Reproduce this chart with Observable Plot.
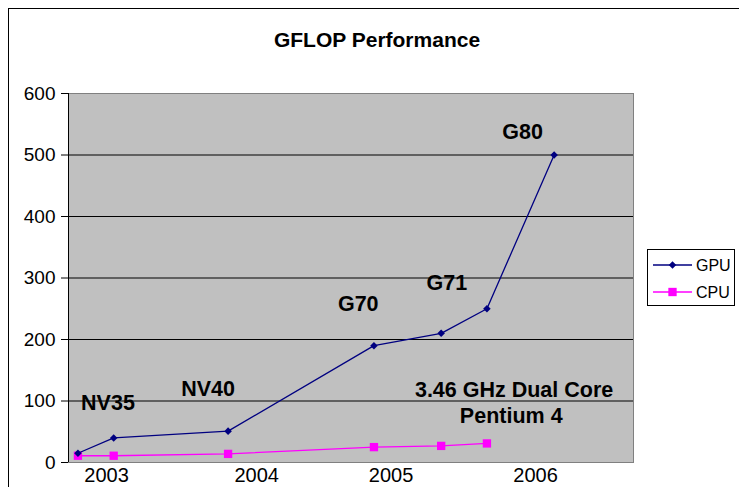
<!DOCTYPE html>
<html><head><meta charset="utf-8">
<script src="https://cdn.jsdelivr.net/npm/d3@7"></script>
<script src="https://cdn.jsdelivr.net/npm/@observablehq/plot@0.6"></script>
<style>
body{margin:0;background:#fff;}
svg{font-family:"Liberation Sans",Arial,sans-serif;}
</style>
</head><body><div id="chart"></div>
<script>
// ---- data ----
const gpuYears = [2002.80, 2003.05, 2003.85, 2004.87, 2005.34, 2005.66, 2006.13];
const gpuValues = [15, 40, 51, 190, 210, 250, 500];
const cpuYears = [2002.80, 2003.05, 2003.85, 2004.87, 2005.34, 2005.66];
const cpuValues = [11, 11, 14, 25, 27, 31];
const yearTicks = [2003, 2004.05, 2004.99, 2006];
const yearLabels = ["2003", "2004", "2005", "2006"];
const yTicks = [0, 100, 200, 300, 400, 500, 600];
const gridValues = [100, 200, 300, 400, 500];
const chipNames = ["NV35", "NV40", "G70", "G71", "G80"];
const chipLabelYears = [2003.01, 2003.71, 2004.76, 2005.38, 2005.91];
const chipLabelValues = [96, 120, 258, 291, 538];
const cpuNoteLines = ["3.46 GHz Dual Core", "Pentium 4"];
const cpuNoteYears = [2005.85, 2005.83];
const cpuNoteValues = [117, 75];
const seriesNames = ["GPU", "CPU"];
const seriesColors = ["#000080", "#ff00ff"];
const titleText = "GFLOP Performance";
const xDomain = [2002.734, 2006.685];

const gpu = gpuYears.map((x, i) => ({x, y: gpuValues[i]}));
const cpu = cpuYears.map((x, i) => ({x, y: cpuValues[i]}));
const chips = chipNames.map((t, i) => ({t, x: chipLabelYears[i], y: chipLabelValues[i]}));
const notes = cpuNoteLines.map((t, i) => ({t, x: cpuNoteYears[i], y: cpuNoteValues[i]}));

const svg = Plot.plot({
  width: 739, height: 487,
  marginLeft: 68, marginRight: 106, marginTop: 93, marginBottom: 25,
  style: {fontFamily: "'Liberation Sans', Arial, sans-serif", background: "#fff", color: "#000"},
  x: {domain: xDomain, label: null},
  y: {domain: [0, 600], label: null},
  marks: [
    Plot.frame({fill: "#c0c0c0", stroke: "#808080"}),
    Plot.ruleY(gridValues, {stroke: "#000", strokeWidth: 1}),
    Plot.ruleX([xDomain[0]], {stroke: "#000", strokeWidth: 1}),
    Plot.axisY({ticks: yTicks, tickSize: 7, tickPadding: 6, fontSize: 19, stroke: "#000", fill: "#000"}),
    Plot.axisX({ticks: yearTicks, tickFormat: d => yearLabels[yearTicks.indexOf(d)], tickSize: 0, tickPadding: 5, fontSize: 20, fill: "#000"}),
    Plot.line(cpu, {x: "x", y: "y", stroke: seriesColors[1], strokeWidth: 1.3}),
    Plot.dot(cpu, {x: "x", y: "y", symbol: "square", r: 4.7, fill: seriesColors[1], stroke: "none"}),
    Plot.line(gpu, {x: "x", y: "y", stroke: seriesColors[0], strokeWidth: 1.3}),
    Plot.dot(gpu, {x: "x", y: "y", symbol: "diamond2", r: 3.4, fill: seriesColors[0], stroke: "none"}),
    Plot.text(chips, {x: "x", y: "y", text: "t", fontSize: 21.5, fontWeight: "bold", fill: "#000"}),
    Plot.text(notes, {x: "x", y: "y", text: "t", fontSize: 21.5, fontWeight: "bold", fill: "#000"})
  ]
});

const s = d3.select(svg);
// outer border
s.append("rect").attr("x", 8.5).attr("y", 8.5).attr("width", 760).attr("height", 500)
  .attr("fill", "none").attr("stroke", "#000");
// title
s.append("text").attr("x", 377).attr("y", 40).attr("text-anchor", "middle").attr("dy", "0.35em")
  .attr("font-size", 21).attr("font-weight", "bold").attr("fill", "#000").text(titleText);
// legend
const lg = s.append("g");
lg.append("rect").attr("x", 647.5).attr("y", 249.5).attr("width", 87).attr("height", 56)
  .attr("fill", "#fff").attr("stroke", "#000");
seriesNames.forEach((name, i) => {
  const yy = 265 + i * 27;
  lg.append("line").attr("x1", 653).attr("x2", 692).attr("y1", yy).attr("y2", yy)
    .attr("stroke", seriesColors[i]).attr("stroke-width", 1.3);
  const sym = i === 0 ? d3.symbol(d3.symbolDiamond2, Math.PI * 3.4 * 3.4) : d3.symbol(d3.symbolSquare, Math.PI * 4.7 * 4.7);
  lg.append("path").attr("d", sym()).attr("transform", `translate(672.5,${yy})`).attr("fill", seriesColors[i]);
  lg.append("text").attr("x", 696).attr("y", yy).attr("dy", "0.35em").attr("font-size", 16)
    .attr("text-anchor", "start").attr("fill", "#000").text(name);
});
document.getElementById("chart").appendChild(svg);
</script>
</body></html>
